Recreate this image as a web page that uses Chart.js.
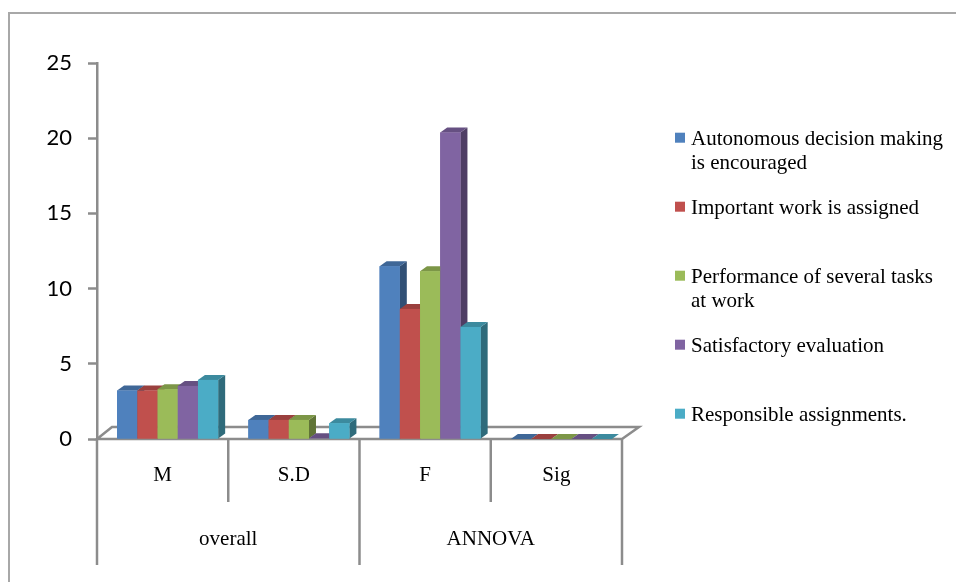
<!DOCTYPE html>
<html>
<head>
<meta charset="utf-8">
<script src="https://cdn.jsdelivr.net/npm/chart.js@4.4.1/dist/chart.umd.min.js"></script>
<style>
  html, body { margin: 0; padding: 0; background: #fff; }
  #wrap { width: 956px; height: 582px; position: relative; }
</style>
</head>
<body>
<div id="wrap"><canvas id="c" width="956" height="582"></canvas></div>
<script>
// ---- data ----
const categories = ['M', 'S.D', 'F', 'Sig'];
const groups = ['overall', 'ANNOVA'];
const groupSpans = [2, 2];
const seriesNames = [
  'Autonomous decision making is encouraged',
  'Important work is assigned',
  'Performance of several tasks at work',
  'Satisfactory evaluation',
  'Responsible assignments.'
];
const autonomous = [3.22, 1.27, 11.49, 0.0];
const important = [3.22, 1.27, 8.65, 0.0];
const performance = [3.31, 1.27, 11.15, 0.0];
const satisfactory = [3.53, 0.05, 20.38, 0.0];
const responsible = [3.93, 1.05, 7.45, 0.0];
const yTicks = [0, 5, 10, 15, 20, 25];

const seriesValues = [autonomous, important, performance, satisfactory, responsible];
const colors = ['#4F81BD', '#C0504D', '#9BBB59', '#8064A2', '#4BACC6'];

function shade(hex, f) {
  const n = parseInt(hex.slice(1), 16);
  const r = Math.round(((n >> 16) & 255) * f), g = Math.round(((n >> 8) & 255) * f), b = Math.round((n & 255) * f);
  return `rgb(${r},${g},${b})`;
}

const AXIS = '#8c8c8c';
const DX = 7, DY = 5, SHIFT = 5;

const threeD = {
  id: 'threeD',
  beforeDraw(chart) {
    const ctx = chart.ctx;
    ctx.save();
    ctx.strokeStyle = '#a8a8a8';
    ctx.lineWidth = 2;
    ctx.strokeRect(9, 13, 1100, 1100);
    ctx.restore();
  },
  beforeDatasetsDraw(chart) {
    const ctx = chart.ctx, a = chart.chartArea;
    // floor
    ctx.save();
    ctx.beginPath();
    ctx.moveTo(a.left, a.bottom);
    ctx.lineTo(a.right, a.bottom);
    ctx.lineTo(a.right + 17, a.bottom - 12);
    ctx.lineTo(a.left + 15, a.bottom - 12);
    ctx.closePath();
    ctx.fillStyle = '#ffffff';
    ctx.fill();
    ctx.strokeStyle = AXIS;
    ctx.lineWidth = 2.5;
    ctx.stroke();
    ctx.restore();
    ctx.save();
    ctx.translate(SHIFT, 0);
  },
  afterDatasetsDraw(chart) {
    const ctx = chart.ctx;
    const nCat = categories.length;
    for (let c = 0; c < nCat; c++) {
      chart.data.datasets.forEach((ds, di) => {
        const meta = chart.getDatasetMeta(di);
        const el = meta.data[c];
        if (!el) return;
        const { x, y, base, width } = el.getProps(['x', 'y', 'base', 'width'], true);
        const l = x - width / 2, r = x + width / 2;
        const col = colors[di];
        // side
        ctx.beginPath();
        ctx.moveTo(r, y); ctx.lineTo(r + DX, y - DY); ctx.lineTo(r + DX, base - DY); ctx.lineTo(r, base); ctx.closePath();
        ctx.fillStyle = shade(col, 0.62); ctx.fill();
        // top
        ctx.beginPath();
        ctx.moveTo(l, y); ctx.lineTo(l + DX, y - DY); ctx.lineTo(r + DX, y - DY); ctx.lineTo(r, y); ctx.closePath();
        ctx.fillStyle = shade(col, 0.8); ctx.fill();
        // front
        if (base - y > 0.5) {
          ctx.fillStyle = col;
          ctx.fillRect(l, y, width, base - y);
        }
      });
    }
    ctx.restore();

    // category separators and group labels
    const xs = chart.scales.x, a = chart.chartArea;
    const half = (xs.getPixelForValue(1) - xs.getPixelForValue(0)) / 2;
    ctx.save();
    ctx.strokeStyle = AXIS;
    ctx.lineWidth = 2.5;
    const outer = new Set([0]);
    let acc = 0;
    groupSpans.forEach(s => { acc += s; outer.add(acc); });
    for (let i = 0; i <= nCat; i++) {
      const px = i < nCat ? xs.getPixelForValue(i) - half : xs.getPixelForValue(nCat - 1) + half;
      ctx.beginPath();
      ctx.moveTo(px, a.bottom);
      ctx.lineTo(px, outer.has(i) ? 565 : 502);
      ctx.stroke();
    }
    ctx.fillStyle = '#000';
    ctx.font = '21px "Liberation Serif", "Times New Roman", serif';
    ctx.textAlign = 'center';
    ctx.textBaseline = 'alphabetic';
    let start = 0;
    groups.forEach((g, gi) => {
      const end = start + groupSpans[gi] - 1;
      const cx = (xs.getPixelForValue(start) + xs.getPixelForValue(end)) / 2;
      ctx.fillText(g, cx, 545);
      start = end + 1;
    });
    ctx.restore();
  },
  afterDraw(chart) {
    const ctx = chart.ctx;
    ctx.save();
    ctx.font = '21px "Liberation Serif", "Times New Roman", serif';
    ctx.textAlign = 'left';
    ctx.textBaseline = 'alphabetic';
    const maxW = 262;
    chart.data.datasets.forEach((ds, i) => {
      const cy = 137.7 + i * 69;
      ctx.fillStyle = colors[i];
      ctx.fillRect(675, cy - 5, 10, 10);
      ctx.fillStyle = '#000';
      const words = ds.label.split(' ');
      const lines = [];
      let cur = '';
      words.forEach(w => {
        const t = cur ? cur + ' ' + w : w;
        if (ctx.measureText(t).width > maxW && cur) { lines.push(cur); cur = w; } else cur = t;
      });
      if (cur) lines.push(cur);
      lines.forEach((ln, k) => ctx.fillText(ln, 691, cy + 7.5 + k * 24));
    });
    ctx.restore();
  }
};

new Chart(document.getElementById('c'), {
  type: 'bar',
  data: {
    labels: categories,
    datasets: seriesNames.map((name, i) => ({
      label: name,
      data: seriesValues[i],
      backgroundColor: colors[i],
      borderWidth: 0,
      categoryPercentage: 0.77,
      barPercentage: 1.0
    }))
  },
  options: {
    responsive: false,
    animation: false,
    layout: { padding: { left: 0, right: 334, top: 63, bottom: 0 } },
    plugins: { legend: { display: false }, tooltip: { enabled: false } },
    scales: {
      x: {
        type: 'category',
        offset: true,
        grid: { display: false, drawTicks: false },
        border: { display: false },
        ticks: { color: '#000', font: { family: '"Liberation Serif", "Times New Roman", serif', size: 21 }, padding: 24, maxRotation: 0 },
        afterFit(s) { s.height = 143; }
      },
      y: {
        min: 0, max: 25,
        afterBuildTicks(s) { s.ticks = yTicks.map(v => ({ value: v })); },
        grid: { drawOnChartArea: false, drawTicks: true, tickLength: 9, color: AXIS, tickWidth: 2.5 },
        border: { display: true, color: AXIS, width: 2.5 },
        ticks: { color: '#000', font: { family: 'Lato, "Open Sans", sans-serif', size: 22 }, padding: 16 },
        afterFit(s) { s.width = 97; }
      }
    }
  },
  plugins: [threeD]
});
</script>
</body>
</html>
